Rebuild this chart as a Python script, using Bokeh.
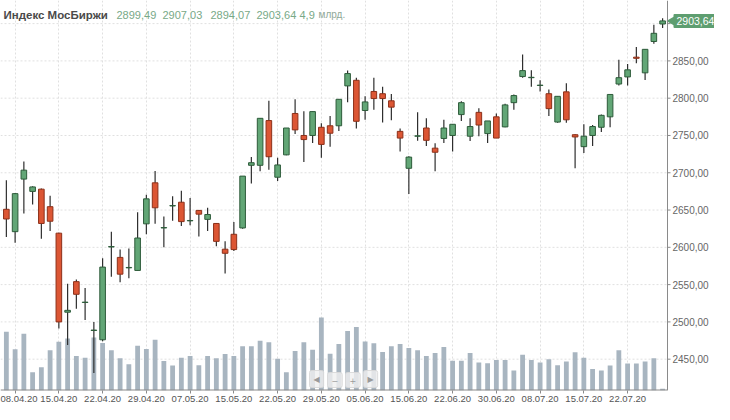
import math
from bokeh.plotting import figure
from bokeh.models import Range1d, FixedTicker, Label, ColumnDataSource, Span
from bokeh.embed import file_html
from bokeh.resources import INLINE
from bokeh.core.properties import value

# ---------------- data ----------------
dates = ["07.04.20", "08.04.20", "09.04.20", "10.04.20", "13.04.20", "14.04.20", "15.04.20",
         "16.04.20", "17.04.20", "20.04.20", "21.04.20", "22.04.20", "23.04.20", "24.04.20",
         "27.04.20", "28.04.20", "29.04.20", "30.04.20", "04.05.20", "05.05.20", "06.05.20",
         "07.05.20", "08.05.20", "12.05.20", "13.05.20", "14.05.20", "15.05.20", "18.05.20",
         "19.05.20", "20.05.20", "21.05.20", "22.05.20", "25.05.20", "26.05.20", "27.05.20",
         "28.05.20", "29.05.20", "01.06.20", "02.06.20", "03.06.20", "04.06.20", "05.06.20",
         "08.06.20", "09.06.20", "10.06.20", "11.06.20", "15.06.20", "16.06.20", "17.06.20",
         "18.06.20", "19.06.20", "22.06.20", "23.06.20", "25.06.20", "26.06.20", "29.06.20",
         "30.06.20", "02.07.20", "03.07.20", "06.07.20", "07.07.20", "08.07.20", "09.07.20",
         "10.07.20", "13.07.20", "14.07.20", "15.07.20", "16.07.20", "17.07.20", "20.07.20",
         "21.07.20", "22.07.20", "23.07.20", "24.07.20", "27.07.20", "28.07.20"]

opens = [2651, 2621, 2691.5, 2675, 2678, 2654.5, 2619, 2513, 2554, 2526,
         2488.5, 2476, 2600.5, 2586.5, 2572.5, 2569, 2631.5, 2686.5, 2626, 2655.5,
         2660.5, 2635.5, 2649.5, 2637.5, 2632, 2597.5, 2617.5, 2626, 2710, 2710,
         2770, 2694, 2724, 2779.5, 2750, 2750, 2761, 2763, 2763, 2816.5,
         2824, 2783.5, 2809, 2806, 2796.5, 2755.5, 2706, 2749, 2760, 2733,
         2746, 2750, 2778, 2749, 2781, 2752.5, 2775, 2761.5, 2794, 2829,
         2827.5, 2817, 2806, 2768, 2808.5, 2751, 2735, 2750, 2761, 2775,
         2819, 2828.5, 2855, 2834, 2876, 2899.49]
highs = [2690, 2673, 2715, 2682, 2679, 2669, 2619.5, 2551, 2557, 2545.5,
         2500, 2585.5, 2621, 2597, 2598.5, 2647, 2670.5, 2702.5, 2641.5, 2668.5,
         2676, 2666, 2650, 2653, 2632.5, 2608, 2634, 2695.5, 2721, 2773,
         2796.5, 2720, 2760, 2798.5, 2782.5, 2782, 2766.5, 2776, 2798.5, 2837,
         2827.5, 2802.5, 2827.5, 2815.5, 2805.5, 2759.5, 2722, 2781, 2773, 2739.5,
         2771, 2765, 2796, 2773, 2786.5, 2769.5, 2779.5, 2792.5, 2805, 2858.5,
         2837.5, 2824, 2811.5, 2802.5, 2820, 2751.5, 2765, 2764, 2778, 2805,
         2851.5, 2846, 2868.5, 2865.5, 2898.5, 2907.03]
lows = [2614, 2606, 2645.5, 2657.5, 2611.5, 2622, 2491, 2469, 2517.5, 2502.5,
        2431.5, 2474, 2560.5, 2553, 2558.5, 2569, 2617.5, 2631.5, 2600, 2635.5,
        2628.5, 2629.5, 2614.5, 2622, 2601.5, 2565, 2595, 2625, 2685.5, 2702,
        2704, 2689, 2723.5, 2752, 2714.5, 2740, 2720, 2735, 2756, 2794.5,
        2759.5, 2771, 2784.5, 2767.5, 2770.5, 2728.5, 2671.5, 2743, 2736, 2702,
        2740, 2728.5, 2769.5, 2742.5, 2749, 2740, 2746.5, 2761, 2784.5, 2827.5,
        2815.5, 2809, 2776, 2767, 2767, 2706, 2726.5, 2736, 2754.5, 2761,
        2817, 2817, 2847, 2824.5, 2873, 2894.07]
closes = [2638, 2672, 2703.5, 2681, 2632, 2635, 2500, 2515.5, 2537, 2526.5,
          2489, 2573.5, 2601, 2564, 2573, 2612.5, 2665, 2653, 2626.5, 2656,
          2634.5, 2636, 2644.5, 2644, 2608, 2592, 2597, 2695.5, 2713.5, 2773,
          2721.5, 2710.5, 2760, 2757.5, 2744.5, 2782, 2738, 2753, 2798.5, 2833,
          2769, 2795, 2799.5, 2799.5, 2788, 2746.5, 2721, 2749.5, 2743.5, 2727.5,
          2760, 2765, 2794, 2762, 2764, 2769.5, 2746.5, 2791, 2803.5, 2837,
          2828, 2817.5, 2786, 2802.5, 2771, 2748, 2749, 2762, 2777, 2805,
          2827.5, 2838, 2853.5, 2865.5, 2887, 2903.64]
# daily turnover, bn RUB
volumes = [177, 124, 171, 55, 70, 121, 147, 157, 104, 99,
           160, 143, 121, 97, 79, 135, 125, 153, 89, 75,
           99, 104, 76, 104, 97, 110, 104, 133, 133, 150,
           145, 96, 55, 119, 145, 123, 220, 111, 140, 179,
           191, 148, 142, 116, 133, 140, 128, 121, 104, 113,
           131, 90, 90, 113, 84, 82, 92, 92, 60, 108,
           92, 84, 94, 76, 87, 115, 99, 65, 60, 75,
           121, 81, 81, 87, 97, 4.9]

price_ticks = [2450, 2500, 2550, 2600, 2650, 2700, 2750, 2800, 2850, 2900]
title_text = "Индекс МосБиржи"
volume_unit = "млрд."

# ---------------- styling / layout constants ----------------
GREEN_FILL, GREEN_LINE = "#62a676", "#2d5b3a"
RED_FILL, RED_LINE = "#dc5634", "#8c3019"
WICK = "#2e2e2e"
VOL = "#a8b5c0"
GRID = "#e0e0e0"
AXIS = "#8a8a8a"
TAG = "#5e9e70"
FONT = "Liberation Sans"

W, H = 714, 404
AXIS_PX = 667                     # pixel position of the price axis inside the frame
X0 = -0.67                        # left edge of the frame (in candle index units)
X_AXIS = len(dates) - 0.44        # price-axis position (in candle index units)
PX = AXIS_PX / (X_AXIS - X0)      # pixels per candle
X1 = X0 + W / PX
Y0, Y1 = 2408, 2931


def fmt(v):
    return f"{v:.2f}".replace(".", ",")


idx = list(range(len(dates)))
up = [c >= o for o, c in zip(opens, closes)]
src = ColumnDataSource(dict(
    x=idx, h=highs, l=lows,
    top=[max(o, c) for o, c in zip(opens, closes)],
    bottom=[min(o, c) for o, c in zip(opens, closes)],
    fill=[GREEN_FILL if u else RED_FILL for u in up],
    line=[GREEN_LINE if u else RED_LINE for u in up],
    vol=volumes,
))

x_ticks = [i for i in idx if i % 5 == 1]

p = figure(width=W, height=H,
           x_range=Range1d(X0, X1), y_range=Range1d(Y0, Y1),
           y_axis_location=None,
           toolbar_location=None, output_backend="svg",
           min_border_left=0, min_border_top=0, min_border_right=0, min_border_bottom=0)
p.outline_line_color = None
p.background_fill_color = "white"
p.border_fill_color = "white"
p.extra_y_ranges = {"vol": Range1d(0, 1175)}

# vertical grid
p.xgrid.ticker = FixedTicker(ticks=x_ticks)
p.xgrid.grid_line_color = GRID
p.xgrid.grid_line_dash = "2 2"
p.ygrid.visible = False

# horizontal grid (stops at the price axis)
gsrc = ColumnDataSource(dict(
    x0=[X0] * len(price_ticks), x1=[X_AXIS] * len(price_ticks), y=price_ticks,
    tx=[X_AXIS] * len(price_ticks), tx1=[X_AXIS + 3 / PX] * len(price_ticks),
    lab=["" if t == 2900 else fmt(t) for t in price_ticks],
))
p.segment(x0="x0", y0="y", x1="x1", y1="y", source=gsrc,
          line_color=GRID, line_dash="2 2", line_width=1)

# volume bars
p.vbar(x="x", top="vol", bottom=0, width=0.55, source=src, y_range_name="vol",
       fill_color=VOL, line_color=None)
# wicks
p.segment(x0="x", y0="l", x1="x", y1="h", source=src, line_color=WICK, line_width=1.2)
# bodies
p.vbar(x="x", top="top", bottom="bottom", width=0.64, source=src,
       fill_color="fill", line_color="line", line_width=1)

# price axis (drawn inside the frame)
p.add_layout(Span(location=X_AXIS, dimension="height", line_color=AXIS, line_width=1))
p.segment(x0="tx", y0="y", x1="tx1", y1="y", source=gsrc, line_color=AXIS, line_width=1)
p.text(x="tx", y="y", text="lab", source=gsrc, x_offset=5,
       text_font=value(FONT), text_font_size=value("10px"), text_color="#666666",
       text_baseline="middle", text_align="left")
# bottom axis line, only up to the price axis
p.segment(x0=[X0], y0=[Y0], x1=[X_AXIS], y1=[Y0], line_color=AXIS, line_width=2)

xa = p.xaxis[0]
xa.ticker = FixedTicker(ticks=x_ticks)
xa.major_label_overrides = {i: dates[i] for i in x_ticks}
xa.axis_line_color = None
xa.major_tick_line_color = AXIS
xa.major_tick_out = 3
xa.major_tick_in = 0
xa.minor_tick_line_color = None
xa.major_label_text_font = FONT
xa.major_label_text_font_size = "9.5px"
xa.major_label_text_color = "#555555"
xa.major_label_standoff = 2

# last price tag
p.scatter(x=[X_AXIS + 4 / PX], y=[closes[-1]], marker="triangle", size=9,
          angle=math.pi / 2, fill_color=TAG, line_color=None)
p.add_layout(Label(x=X_AXIS, y=closes[-1], text=fmt(closes[-1]),
                   x_offset=6, text_font=FONT, text_font_size="10.5px",
                   text_color="white", text_baseline="middle", text_align="left",
                   background_fill_color=TAG, padding=3, border_radius=1))

# header
hdr_y = 376
p.add_layout(Label(x=3, y=hdr_y, x_units="screen", y_units="screen", text=title_text,
                   text_font=FONT, text_font_size="11.5px", text_font_style="bold",
                   text_color="#4a4a4a", text_baseline="alphabetic"))
vals = [opens[-1], highs[-1], lows[-1], closes[-1]]
hx = [116, 162, 210, 256]
for xx, v in zip(hx, vals):
    p.add_layout(Label(x=xx, y=hdr_y, x_units="screen", y_units="screen", text=fmt(v),
                       text_font=FONT, text_font_size="11px", text_color="#78a987",
                       text_baseline="alphabetic"))
p.add_layout(Label(x=299, y=hdr_y, x_units="screen", y_units="screen",
                   text=f"{volumes[-1]:.1f}".replace(".", ","),
                   text_font=FONT, text_font_size="11px", text_color="#78a987",
                   text_baseline="alphabetic"))
p.add_layout(Label(x=318, y=hdr_y, x_units="screen", y_units="screen", text=volume_unit,
                   text_font=FONT, text_font_size="10px", text_color="#8fa898",
                   text_baseline="alphabetic"))

# navigator buttons
for k, sym in enumerate(["◀", "−", "+", "▶"]):
    p.add_layout(Label(x=309 + 18 * k, y=3, x_units="screen", y_units="screen",
                       text=sym, text_font="DejaVu Sans", text_font_size="8px",
                       text_color="#9a9a9a", text_align="left",
                       background_fill_color="#f0f0f0", background_fill_alpha=0.8,
                       border_line_color="#d8d8d8", border_line_alpha=0.9,
                       padding=4, border_radius=2))

open("out.html", "w").write(file_html(p, INLINE))
